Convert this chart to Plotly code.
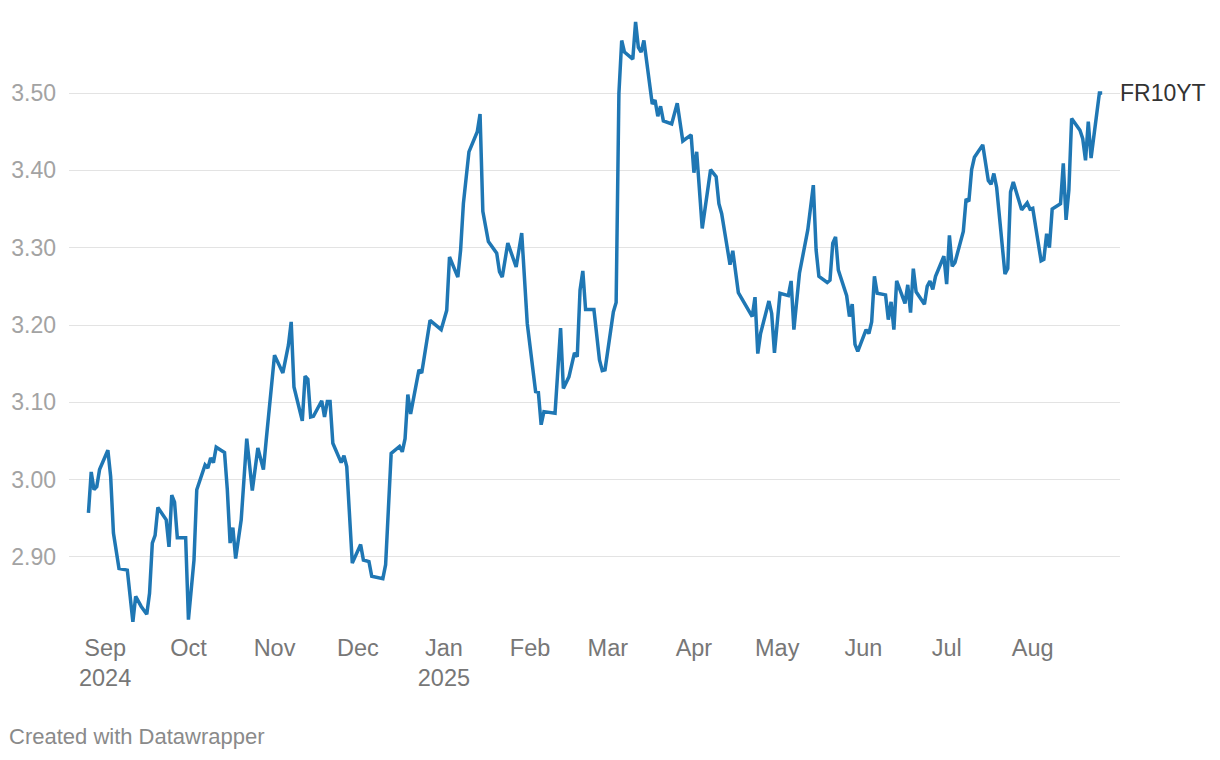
import plotly.graph_objects as go

dates = [
    "2024-08-26", "2024-08-27", "2024-08-28", "2024-08-29", "2024-08-30",
    "2024-09-02", "2024-09-03", "2024-09-04", "2024-09-06", "2024-09-09",
    "2024-09-11", "2024-09-12", "2024-09-14", "2024-09-16", "2024-09-17",
    "2024-09-18", "2024-09-19", "2024-09-20", "2024-09-23", "2024-09-24",
    "2024-09-25", "2024-09-26", "2024-09-27", "2024-09-30", "2024-10-01",
    "2024-10-03", "2024-10-04", "2024-10-07", "2024-10-08", "2024-10-09",
    "2024-10-10", "2024-10-11", "2024-10-14", "2024-10-15", "2024-10-16",
    "2024-10-17", "2024-10-18", "2024-10-20", "2024-10-22", "2024-10-24",
    "2024-10-26", "2024-10-28", "2024-10-29", "2024-10-30", "2024-10-31",
    "2024-11-01", "2024-11-04", "2024-11-06", "2024-11-07", "2024-11-08",
    "2024-11-11", "2024-11-12", "2024-11-13", "2024-11-14", "2024-11-15",
    "2024-11-18", "2024-11-19", "2024-11-20", "2024-11-21", "2024-11-22",
    "2024-11-25", "2024-11-26", "2024-11-27", "2024-11-29", "2024-12-02",
    "2024-12-03", "2024-12-05", "2024-12-06", "2024-12-10", "2024-12-11",
    "2024-12-13", "2024-12-16", "2024-12-17", "2024-12-18", "2024-12-19",
    "2024-12-20", "2024-12-23", "2024-12-24", "2024-12-27", "2024-12-31",
    "2025-01-02", "2025-01-03", "2025-01-06", "2025-01-07", "2025-01-08",
    "2025-01-10", "2025-01-13", "2025-01-14", "2025-01-15", "2025-01-17",
    "2025-01-20", "2025-01-21", "2025-01-22", "2025-01-24", "2025-01-27",
    "2025-01-29", "2025-01-31", "2025-02-03", "2025-02-04", "2025-02-05",
    "2025-02-06", "2025-02-10", "2025-02-12", "2025-02-13", "2025-02-15",
    "2025-02-17", "2025-02-18", "2025-02-19", "2025-02-20", "2025-02-21",
    "2025-02-24", "2025-02-26", "2025-02-27", "2025-02-28", "2025-03-03",
    "2025-03-04", "2025-03-05", "2025-03-06", "2025-03-07", "2025-03-10",
    "2025-03-11", "2025-03-12", "2025-03-13", "2025-03-14", "2025-03-17",
    "2025-03-18", "2025-03-19", "2025-03-20", "2025-03-21", "2025-03-24",
    "2025-03-26", "2025-03-28", "2025-03-31", "2025-04-01", "2025-04-02",
    "2025-04-04", "2025-04-07", "2025-04-09", "2025-04-10", "2025-04-11",
    "2025-04-14", "2025-04-15", "2025-04-17", "2025-04-22", "2025-04-23",
    "2025-04-24", "2025-04-25", "2025-04-28", "2025-04-29", "2025-04-30",
    "2025-05-02", "2025-05-05", "2025-05-06", "2025-05-07", "2025-05-09",
    "2025-05-12", "2025-05-14", "2025-05-15", "2025-05-16", "2025-05-19",
    "2025-05-20", "2025-05-21", "2025-05-22", "2025-05-23", "2025-05-26",
    "2025-05-27", "2025-05-28", "2025-05-29", "2025-05-30", "2025-06-02",
    "2025-06-03", "2025-06-04", "2025-06-05", "2025-06-06", "2025-06-09",
    "2025-06-10", "2025-06-11", "2025-06-12", "2025-06-13", "2025-06-16",
    "2025-06-17", "2025-06-18", "2025-06-19", "2025-06-20", "2025-06-23",
    "2025-06-24", "2025-06-25", "2025-06-26", "2025-06-27", "2025-06-30",
    "2025-07-01", "2025-07-02", "2025-07-03", "2025-07-04", "2025-07-07",
    "2025-07-08", "2025-07-09", "2025-07-10", "2025-07-11", "2025-07-14",
    "2025-07-16", "2025-07-17", "2025-07-18", "2025-07-19", "2025-07-22",
    "2025-07-23", "2025-07-24", "2025-07-25", "2025-07-28", "2025-07-30",
    "2025-07-31", "2025-08-01", "2025-08-04", "2025-08-05", "2025-08-06",
    "2025-08-07", "2025-08-08", "2025-08-11", "2025-08-12", "2025-08-13",
    "2025-08-14", "2025-08-15", "2025-08-18", "2025-08-19", "2025-08-20",
    "2025-08-21", "2025-08-22", "2025-08-25", "2025-08-26",
]

fr10yt = [
    2.957, 3.010, 2.987, 2.991, 3.013,
    3.038, 3.004, 2.931, 2.885, 2.883,
    2.816, 2.849, 2.836, 2.826, 2.853,
    2.918, 2.928, 2.964, 2.948, 2.913,
    2.980, 2.971, 2.925, 2.925, 2.819,
    2.896, 2.987, 3.019, 3.015, 3.028,
    3.022, 3.042, 3.035, 2.987, 2.918,
    2.938, 2.898, 2.948, 3.053, 2.986,
    3.041, 3.013, 3.051, 3.090, 3.125,
    3.161, 3.138, 3.174, 3.204, 3.120,
    3.076, 3.134, 3.130, 3.081, 3.082,
    3.102, 3.081, 3.101, 3.101, 3.047,
    3.022, 3.031, 3.017, 2.892, 2.916,
    2.896, 2.894, 2.875, 2.872, 2.890,
    3.034, 3.043, 3.036, 3.053, 3.110,
    3.085, 3.142, 3.138, 3.206, 3.194,
    3.219, 3.288, 3.262, 3.297, 3.357,
    3.424, 3.450, 3.473, 3.347, 3.308,
    3.293, 3.269, 3.262, 3.306, 3.275,
    3.319, 3.202, 3.114, 3.113, 3.071,
    3.088, 3.086, 3.196, 3.118, 3.133,
    3.164, 3.159, 3.245, 3.270, 3.220,
    3.220, 3.155, 3.141, 3.142, 3.217,
    3.229, 3.500, 3.568, 3.553, 3.544,
    3.592, 3.559, 3.553, 3.568, 3.486,
    3.491, 3.470, 3.483, 3.464, 3.460,
    3.487, 3.438, 3.446, 3.397, 3.424,
    3.325, 3.401, 3.392, 3.357, 3.344,
    3.278, 3.296, 3.242, 3.211, 3.236,
    3.163, 3.189, 3.231, 3.215, 3.164,
    3.241, 3.238, 3.257, 3.194, 3.267,
    3.323, 3.381, 3.297, 3.263, 3.255,
    3.258, 3.306, 3.314, 3.271, 3.238,
    3.211, 3.227, 3.175, 3.166, 3.194,
    3.189, 3.204, 3.263, 3.241, 3.239,
    3.207, 3.230, 3.194, 3.257, 3.228,
    3.252, 3.216, 3.273, 3.243, 3.227,
    3.250, 3.257, 3.246, 3.263, 3.289,
    3.253, 3.316, 3.276, 3.281, 3.321,
    3.363, 3.360, 3.401, 3.417, 3.433,
    3.387, 3.382, 3.396, 3.378, 3.266,
    3.273, 3.372, 3.385, 3.349, 3.358,
    3.350, 3.351, 3.283, 3.285, 3.318,
    3.300, 3.350, 3.357, 3.409, 3.336,
    3.374, 3.467, 3.452, 3.441, 3.413,
    3.463, 3.416, 3.500, 3.500,
]

series_name = "FR10YT"

x_tick_vals = [
    "2024-09-01", "2024-10-01", "2024-11-01", "2024-12-01", "2025-01-01",
    "2025-02-01", "2025-03-01", "2025-04-01", "2025-05-01", "2025-06-01",
    "2025-07-01", "2025-08-01",
]
x_tick_text = [
    "Sep<br>2024", "Oct", "Nov", "Dec", "Jan<br>2025", "Feb", "Mar", "Apr",
    "May", "Jun", "Jul", "Aug",
]
y_tick_vals = [2.90, 3.00, 3.10, 3.20, 3.30, 3.40, 3.50]
y_tick_text = ["2.90", "3.00", "3.10", "3.20", "3.30", "3.40", "3.50"]

credit = "Created with Datawrapper"

FONT = "Liberation Sans, Arial, Helvetica, sans-serif"
LINE_COLOR = "#1f77b4"

fig = go.Figure()
fig.add_trace(go.Scatter(
    x=dates, y=fr10yt, mode="lines", name=series_name,
    line=dict(color=LINE_COLOR, width=3.5), hoverinfo="x+y",
))

fig.add_annotation(
    x=dates[-1], y=fr10yt[-1], xref="x", yref="y",
    text=series_name, showarrow=False, xanchor="left", yanchor="middle",
    xshift=16, font=dict(family=FONT, size=23, color="#333333"),
)
fig.add_annotation(
    x=-0.059, y=-0.1836, xref="paper", yref="paper",
    text=credit, showarrow=False, xanchor="left", yanchor="middle",
    font=dict(family=FONT, size=22, color="#8a8a8a"),
)

fig.update_layout(
    width=1220, height=760,
    margin=dict(l=61, r=108, t=7, b=143, pad=0, autoexpand=False),
    paper_bgcolor="white", plot_bgcolor="white",
    showlegend=False,
    font=dict(family=FONT),
    xaxis=dict(
        type="date", automargin=False,
        range=["2024-08-19", "2025-09-01 10:00"],
        tickmode="array", tickvals=x_tick_vals, ticktext=x_tick_text,
        showgrid=False, zeroline=False, showline=False, ticks="",
        tickfont=dict(family=FONT, size=23.5, color="#777777"),
        ticklabelstandoff=6,
    ),
    yaxis=dict(
        automargin=False,
        range=[2.812, 3.601],
        tickmode="array", tickvals=y_tick_vals, ticktext=y_tick_text,
        showgrid=True, gridcolor="#e3e3e3", gridwidth=1.3,
        zeroline=False, showline=False, ticks="",
        tickfont=dict(family=FONT, size=23, color="#a3a3a3"),
        ticklabelstandoff=12,
    ),
)

fig.write_html("out.html")
